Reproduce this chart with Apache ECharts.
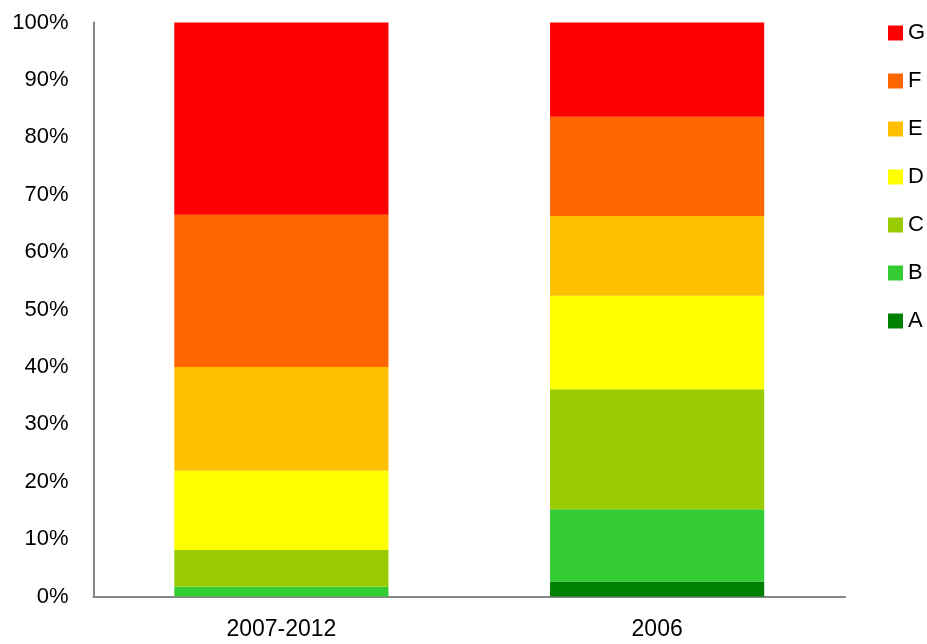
<!DOCTYPE html>
<html>
<head>
<meta charset="utf-8">
<script src="https://cdn.jsdelivr.net/npm/echarts@6/dist/echarts.min.js"></script>
<style>html,body{margin:0;padding:0;background:#fff;}#c{width:927px;height:644px;}</style>
</head>
<body>
<div id="c"></div>
<script>
const categories = ['2007-2012', '2006'];
const seriesNames = ['A', 'B', 'C', 'D', 'E', 'F', 'G'];
const colors = ['#008000', '#33CC33', '#99CC00', '#FFFF00', '#FFC000', '#FF6600', '#FF0000'];
const valA = [0, 2.6];
const valB = [1.7, 12.6];
const valC = [6.4, 20.9];
const valD = [13.8, 16.3];
const valE = [18.1, 13.9];
const valF = [26.5, 17.3];
const valG = [33.5, 16.4];
const yTicks = [0, 10, 20, 30, 40, 50, 60, 70, 80, 90, 100];

const allVals = [valA, valB, valC, valD, valE, valF, valG];
const FONT = '"Liberation Sans", Arial, sans-serif';

const chart = echarts.init(document.getElementById('c'), null, {renderer: 'canvas'});
chart.setOption({
  animation: false,
  backgroundColor: '#fff',
  grid: {left: 93.5, right: 82, top: 22.5, bottom: 47.5, containLabel: false},
  legend: {
    orient: 'vertical',
    left: 888,
    top: 22,
    padding: 0,
    itemWidth: 15,
    itemHeight: 15,
    itemGap: 26,
    itemTextGap: 6,
    icon: 'rect',
    data: seriesNames.slice().reverse(),
    textStyle: {fontFamily: FONT, fontSize: 22, color: '#000'}
  },
  xAxis: {
    type: 'category',
    data: categories,
    axisLine: {lineStyle: {color: '#868686', width: 2}},
    axisTick: {show: false},
    axisLabel: {fontFamily: FONT, fontSize: 23, color: '#000', margin: 22}
  },
  yAxis: {
    type: 'value',
    min: 0, max: 100, interval: 10,
    axisLine: {show: true, lineStyle: {color: '#868686', width: 2}},
    axisTick: {show: false},
    splitLine: {show: false},
    axisLabel: {fontFamily: FONT, fontSize: 22, color: '#000', margin: 25,
      formatter: v => yTicks.includes(v) ? v + '%' : ''}
  },
  series: seriesNames.map((n, i) => ({
    name: n,
    type: 'bar',
    stack: 'total',
    barWidth: '57%',
    itemStyle: {color: colors[i]},
    data: allVals[i]
  }))
});
</script>
</body>
</html>
